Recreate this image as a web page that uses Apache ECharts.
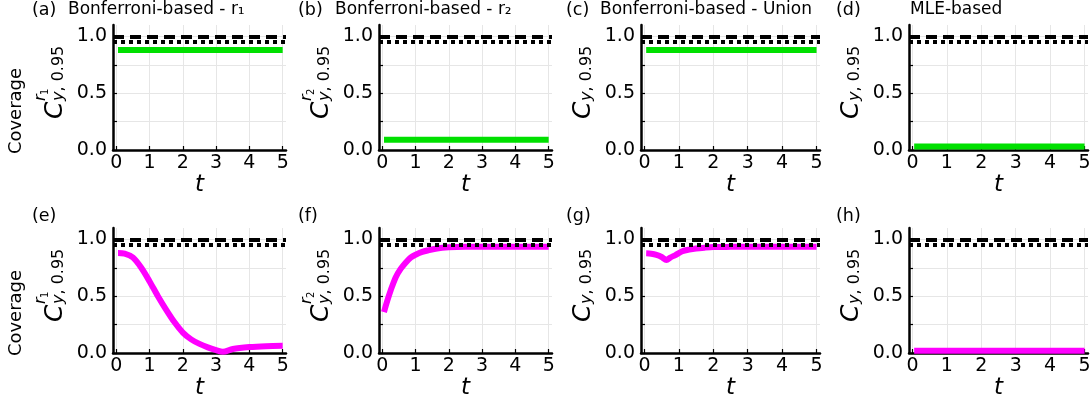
<!DOCTYPE html>
<html>
<head>
<meta charset="utf-8">
<script src="https://cdn.jsdelivr.net/npm/echarts@6/dist/echarts.min.js"></script>
<style>
  html, body { margin: 0; padding: 0; background: #fff; }
  #chart { width: 1092px; height: 397px; }
</style>
</head>
<body>
<div id="chart"></div>
<script>
// ---- tick values ----
const tTicks = [0, 1, 2, 3, 4, 5];
const covTicks = [0, 0.25, 0.5, 0.75, 1.0];
const covLabels = [0, 0.5, 1.0];

// ---- reference levels ----
const targetLevel = 1.0;   // dashed
const nominalLevel = 0.95; // dotted

// ---- panel text ----
const panelLetters = ['(a)', '(b)', '(c)', '(d)', '(e)', '(f)', '(g)', '(h)'];
const panelTitles = ['Bonferroni-based - r\u2081', 'Bonferroni-based - r\u2082', 'Bonferroni-based - Union', 'MLE-based'];
const supScripts = ['1', '2', null, null]; // superscript index on C (r_1, r_2) per column

// ---- top row: constant coverage over time ----
const tTop = [0.05, 5.0];
const covA = [0.88, 0.88];
const covB = [0.09, 0.09];
const covC = [0.88, 0.88];
const covD = [0.03, 0.03];

// ---- bottom row: coverage over time ----
const tE = [0.05, 0.25, 0.5, 0.75, 1.0, 1.25, 1.5, 1.75, 2.0, 2.25, 2.5, 2.75, 3.0, 3.2, 3.5, 4.0, 4.5, 5.0];
const covE = [0.88, 0.875, 0.84, 0.75, 0.63, 0.5, 0.38, 0.27, 0.18, 0.12, 0.08, 0.05, 0.025, 0.01, 0.035, 0.052, 0.06, 0.063];

const tF = [0.05, 0.15, 0.25, 0.4, 0.55, 0.7, 0.85, 1.0, 1.2, 1.4, 1.6, 1.8, 2.0, 2.5, 3.0, 4.0, 5.0];
const covF = [0.36, 0.46, 0.55, 0.665, 0.74, 0.795, 0.84, 0.865, 0.89, 0.905, 0.918, 0.926, 0.93, 0.934, 0.935, 0.935, 0.935];

const tG = [0.05, 0.2, 0.35, 0.5, 0.64, 0.75, 0.9, 1.1, 1.3, 1.5, 1.75, 2.0, 2.5, 3.0, 4.0, 5.0];
const covG = [0.877, 0.874, 0.864, 0.845, 0.818, 0.84, 0.862, 0.895, 0.91, 0.92, 0.927, 0.932, 0.934, 0.935, 0.935, 0.935];

const tH = [0.05, 5.0];
const covH = [0.02, 0.02];

const GREEN = '#00e000';
const MAGENTA = '#ff00ff';

const panels = [
  { t: tTop, v: covA, color: GREEN, smooth: false },
  { t: tTop, v: covB, color: GREEN, smooth: false },
  { t: tTop, v: covC, color: GREEN, smooth: false },
  { t: tTop, v: covD, color: GREEN, smooth: false },
  { t: tE, v: covE, color: MAGENTA, smooth: 0.3 },
  { t: tF, v: covF, color: MAGENTA, smooth: 0.3 },
  { t: tG, v: covG, color: MAGENTA, smooth: 0.3 },
  { t: tH, v: covH, color: MAGENTA, smooth: false }
];

// ---- layout ----
const rowTop = [25, 228];
const plotH = 125;
const colLeft = [113, 379, 641, 909];
const colWidth = [173, 173, 179, 179];
const FONT = 'DejaVu Sans';

const grids = [], xAxes = [], yAxes = [], series = [];
panels.forEach((p, i) => {
  const r = Math.floor(i / 4), c = i % 4;
  grids.push({ left: colLeft[c], top: rowTop[r], width: colWidth[c], height: plotH, outerBoundsMode: 'none' });
  xAxes.push({
    type: 'value', gridIndex: i, min: -0.1, max: 5.1,
    name: 't', nameLocation: 'middle', nameGap: 24,
    nameTextStyle: { fontFamily: FONT, fontStyle: 'italic', fontSize: 23, color: '#000' },
    axisLine: { onZero: false, lineStyle: { color: '#000', width: 2.5 } },
    axisTick: { customValues: tTicks, inside: true, length: 4, lineStyle: { color: '#000', width: 1.2 } },
    axisLabel: { customValues: tTicks, fontFamily: FONT, fontSize: 19, color: '#000', margin: 4 },
    splitLine: { show: true, lineStyle: { color: '#e6e6e6', width: 1 } }
  });
  yAxes.push({
    type: 'value', gridIndex: i, min: 0, max: 1.1,
    axisLine: { show: true, onZero: false, lineStyle: { color: '#000', width: 2.5 } },
    axisTick: { show: true, customValues: covTicks, inside: true, length: 4, lineStyle: { color: '#000', width: 1.2 } },
    axisLabel: { customValues: covLabels, fontFamily: FONT, fontSize: 19, color: '#000', margin: 6,
                 formatter: v => Number(v).toFixed(1) },
    splitLine: { show: true, lineStyle: { color: '#e6e6e6', width: 1 } }
  });
  series.push({
    type: 'line', xAxisIndex: i, yAxisIndex: i,
    data: p.t.map((t, k) => [t, p.v[k]]),
    showSymbol: false, smooth: p.smooth, z: 3,
    lineStyle: { color: p.color, width: 6, cap: 'butt' },
    markLine: {
      silent: true, symbol: ['none', 'none'], label: { show: false }, animation: false,
      data: [
        { yAxis: targetLevel, lineStyle: { color: '#000', width: 4, type: [11, 6] } },
        { yAxis: nominalLevel, lineStyle: { color: '#000', width: 4, type: [4, 4] } }
      ]
    }
  });
});

// ---- text: panel letters, titles, y labels ----
const graphic = [];
const letterX = [32, 298, 566, 836];
const titleX = [68, 335, 600, 910];
const letterY = [10, 216];
panelLetters.forEach((s, i) => {
  const r = Math.floor(i / 4), c = i % 4;
  graphic.push({ type: 'text', x: letterX[c], y: letterY[r],
    style: { text: s, fontFamily: FONT, fontSize: 17.5, fill: '#000', align: 'left', verticalAlign: 'middle' } });
});
panelTitles.forEach((s, c) => {
  graphic.push({ type: 'text', x: titleX[c], y: letterY[0],
    style: { text: s, fontFamily: FONT, fontSize: 17, fill: '#000', align: 'left', verticalAlign: 'middle' } });
});

const yLabelBottom = [119, 322];
for (let r = 0; r < 2; r++) {
  graphic.push({ type: 'text', x: 16, y: [111, 313][r], rotation: Math.PI / 2,
    style: { text: 'Coverage', fontFamily: FONT, fontSize: 18, fill: '#000', align: 'center', verticalAlign: 'middle' } });
  for (let c = 0; c < 4; c++) {
    const R = colLeft[c] - 48;
    const children = [
      { type: 'text', style: { x: 0, y: -10, text: 'C', fontFamily: FONT, fontStyle: 'italic', fontSize: 25, fill: '#000',
          align: 'left', verticalAlign: 'middle' } },
      { type: 'text', style: { x: 18, y: -6, text: '{i|y}{u|, 0.95}', fill: '#000', align: 'left', verticalAlign: 'middle',
          rich: { i: { fontFamily: FONT, fontStyle: 'italic', fontSize: 16, fill: '#000' },
                  u: { fontFamily: FONT, fontSize: 16, fill: '#000' } } } }
    ];
    if (supScripts[c]) {
      children.push({ type: 'text', style: { x: 18, y: -24, text: 'r', fontFamily: FONT, fontStyle: 'italic', fontSize: 16, fill: '#000',
          align: 'left', verticalAlign: 'middle' } });
      children.push({ type: 'text', style: { x: 24, y: -20, text: supScripts[c], fontFamily: FONT, fontSize: 10, fill: '#000',
          align: 'left', verticalAlign: 'middle' } });
    }
    graphic.push({ type: 'group', x: R, y: yLabelBottom[r], rotation: Math.PI / 2, children });
  }
}

const chart = echarts.init(document.getElementById('chart'), null, { renderer: 'canvas' });
chart.setOption({
  animation: false,
  backgroundColor: '#fff',
  grid: grids,
  xAxis: xAxes,
  yAxis: yAxes,
  series,
  graphic
});
</script>
</body>
</html>
